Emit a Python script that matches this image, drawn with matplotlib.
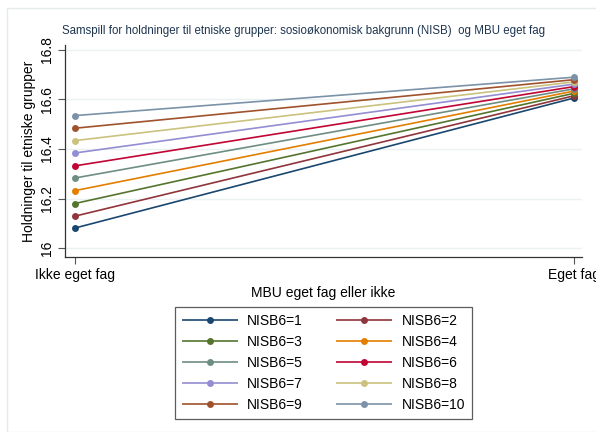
import matplotlib.pyplot as plt
from matplotlib.patches import Rectangle

plt.rcParams['font.family'] = ['Liberation Sans', 'DejaVu Sans']

# Data
categories = ["Ikke eget fag", "Eget fag"]
groups = ["NISB6=1", "NISB6=2", "NISB6=3", "NISB6=4", "NISB6=5",
          "NISB6=6", "NISB6=7", "NISB6=8", "NISB6=9", "NISB6=10"]
ikke_eget = [16.081, 16.129, 16.180, 16.232, 16.283, 16.332, 16.384, 16.434, 16.484, 16.535]
eget = [16.606, 16.615, 16.625, 16.634, 16.643, 16.652, 16.662, 16.671, 16.680, 16.690]
yticks = [16.0, 16.2, 16.4, 16.6, 16.8]
ytick_labels = ["16", "16.2", "16.4", "16.6", "16.8"]

# Stata s2color palette
colors = ['#1a476f', '#90353b', '#55752f', '#e37e00', '#6e8e84',
          '#c10534', '#938dd2', '#cac27e', '#a0522d', '#7b92a8']

W, H = 596, 432
fig = plt.figure(figsize=(W / 100, H / 100), dpi=100)
fig.patch.set_facecolor('white')

# light graph-region frame
fig.patches.append(Rectangle((7 / W, 0), 1.2, 1 - 8 / H, transform=fig.transFigure,
                             fill=False, edgecolor='#e4ecee', linewidth=1.0))

left, right, top, bottom = 65, 582, 45, 257
ax = fig.add_axes([left / W, 1 - bottom / H, (right - left) / W, (bottom - top) / H])

x = [0, 1]
lines = []
for name, a, b, c in zip(groups, ikke_eget, eget, colors):
    ln, = ax.plot(x, [a, b], color=c, linewidth=1.2, marker='o', markersize=5,
                  markeredgewidth=0, label=name, solid_capstyle='butt')
    lines.append(ln)

ax.set_xlim(-0.02, 1.016)
ax.set_ylim(15.964, 16.82)
ax.set_xticks(x)
ax.set_xticklabels(categories, fontsize=10)
ax.set_yticks(yticks)
ax.set_yticklabels(ytick_labels, fontsize=10, rotation=90, va='center')
ax.yaxis.grid(True, color='#eaf2f3', linewidth=1.0)
ax.set_axisbelow(True)
for s in ['top', 'right']:
    ax.spines[s].set_visible(False)
for s in ['left', 'bottom']:
    ax.spines[s].set_color('#333333')
    ax.spines[s].set_linewidth(0.9)
ax.tick_params(axis='both', length=5, width=0.8, color='#555555', pad=3)

ax.set_xlabel("MBU eget fag eller ikke", fontsize=10, labelpad=3)
ax.set_ylabel("Holdninger til etniske grupper", fontsize=10, labelpad=3)

fig.text(62 / W, 1 - 31 / H,
         "Samspill for holdninger til etniske grupper: sosioøkonomisk bakgrunn (NISB)  og MBU eget fag",
         fontsize=8.3, color='#1e3550', va='center', ha='left')

# legend filled row by row (odd groups left column, even groups right)
order = [0, 2, 4, 6, 8, 1, 3, 5, 7, 9]
leg = fig.legend([lines[i] for i in order], [groups[i] for i in order],
                 loc='upper left', bbox_to_anchor=(175 / W, 1 - 307 / H), ncol=2,
                 fontsize=10, frameon=True, fancybox=False, edgecolor='#333333',
                 handlelength=4.0, columnspacing=2.4, labelspacing=0.5,
                 borderpad=0.5, handletextpad=0.7, borderaxespad=0)
leg.get_frame().set_linewidth(0.9)

fig.savefig("out.png", dpi=100, facecolor='white')
